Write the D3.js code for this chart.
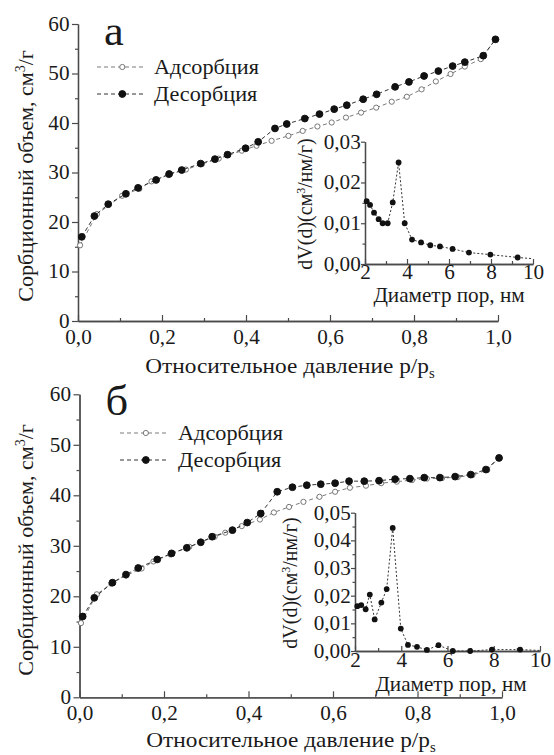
<!DOCTYPE html>
<html>
<head>
<meta charset="utf-8">
<script src="https://cdn.jsdelivr.net/npm/d3@7"></script>
<style>
  body { margin: 0; background: #fff; }
  svg { display: block; }
  text { font-family: "Liberation Serif", "Times New Roman", serif; fill: #1a1a1a; }
</style>
</head>
<body>
<svg id="fig" width="554" height="755"></svg>
<script>
// ---- Isotherm (а): relative pressure p/ps and sorbed volume, cm3/g ----
const desA_p = [0.009, 0.039, 0.072, 0.114, 0.143, 0.186, 0.217, 0.247, 0.292, 0.326, 0.356, 0.399, 0.429, 0.469, 0.497, 0.540, 0.575, 0.610, 0.640, 0.679, 0.711, 0.755, 0.788, 0.824, 0.858, 0.892, 0.921, 0.965, 0.994];
const desA_v = [17.0, 21.2, 23.6, 25.7, 26.9, 28.5, 29.7, 30.5, 31.8, 32.7, 33.6, 34.9, 36.2, 38.9, 39.8, 40.9, 41.8, 42.8, 43.6, 44.8, 45.8, 47.3, 48.3, 49.5, 50.5, 51.5, 52.3, 53.6, 56.9];
const adsA_p = [0.005, 0.045, 0.105, 0.146, 0.175, 0.215, 0.257, 0.295, 0.335, 0.390, 0.425, 0.461, 0.501, 0.535, 0.570, 0.604, 0.638, 0.674, 0.710, 0.747, 0.783, 0.818, 0.852, 0.887, 0.921, 0.959, 0.994];
const adsA_v = [15.3, 21.6, 25.3, 26.7, 28.2, 29.5, 30.6, 31.7, 32.8, 34.4, 35.4, 36.4, 37.4, 38.4, 39.3, 40.1, 41.1, 42.1, 43.1, 44.3, 45.3, 46.8, 48.4, 49.9, 51.4, 52.9, 56.9];

// ---- Isotherm (б) ----
const desB_p = [0.0075, 0.035, 0.078, 0.110, 0.139, 0.184, 0.218, 0.254, 0.287, 0.314, 0.362, 0.397, 0.429, 0.468, 0.504, 0.538, 0.571, 0.605, 0.638, 0.674, 0.709, 0.747, 0.782, 0.816, 0.853, 0.889, 0.926, 0.962, 0.993];
const desB_v = [16.0, 19.7, 22.7, 24.3, 25.6, 27.3, 28.5, 29.6, 30.7, 31.8, 33.1, 34.6, 36.4, 40.7, 41.6, 42.0, 42.2, 42.4, 42.8, 42.8, 42.9, 43.2, 43.3, 43.5, 43.5, 43.7, 44.1, 45.1, 47.4];
const adsB_p = [0.0035, 0.041, 0.075, 0.110, 0.147, 0.175, 0.215, 0.260, 0.320, 0.345, 0.384, 0.427, 0.460, 0.496, 0.530, 0.568, 0.605, 0.640, 0.678, 0.714, 0.751, 0.787, 0.822, 0.858, 0.895, 0.930, 0.965, 0.993];
const adsB_v = [14.7, 20.4, 22.5, 24.1, 25.5, 26.9, 28.3, 29.8, 31.8, 32.6, 33.9, 35.2, 36.6, 37.7, 38.7, 39.7, 40.7, 41.5, 41.9, 42.4, 42.7, 43.0, 43.3, 43.4, 43.6, 44.0, 45.0, 47.4];

// ---- Pore size distributions (insets); the last entry only continues the curve ----
const poreA_d  = [2.08, 2.24, 2.43, 2.65, 2.84, 3.08, 3.32, 3.60, 3.89, 4.24, 4.67, 5.11, 5.57, 6.17, 6.95, 7.97, 9.27, 10.0];
const poreA_dv = [0.0154, 0.0145, 0.0126, 0.0110, 0.0100, 0.0100, 0.0151, 0.0249, 0.0100, 0.0060, 0.0053, 0.0046, 0.0043, 0.0037, 0.0028, 0.0023, 0.0016, 0.0013];
const poreB_d  = [2.10, 2.27, 2.46, 2.64, 2.85, 3.14, 3.37, 3.63, 3.98, 4.29, 4.68, 5.11, 5.61, 6.23, 6.98, 7.92, 9.14, 10.0];
const poreB_dv = [0.0162, 0.0166, 0.0151, 0.0204, 0.0114, 0.0175, 0.0224, 0.0445, 0.0081, 0.0022, 0.0015, 0.0004, 0.0021, 0.0000, 0.0000, 0.0005, 0.0005, 0.0002];

// ---- Ticks and labels ----
const pTicks = [0, 0.2, 0.4, 0.6, 0.8, 1.0];
const pMinor = [0.1, 0.3, 0.5, 0.7, 0.9];
const vTicks = [0, 10, 20, 30, 40, 50, 60];
const vMinor = [5, 15, 25, 35, 45, 55];
const dTicks = [2, 4, 6, 8, 10];
const dMinor = [3, 5, 7, 9];
const dvTicksA = [0, 0.01, 0.02, 0.03];
const dvMinorA = [0.005, 0.015, 0.025];
const dvTicksB = [0, 0.01, 0.02, 0.03, 0.04, 0.05];
const dvMinorB = [0.005, 0.015, 0.025, 0.035, 0.045];
const seriesNames = ["Адсорбция", "Десорбция"];

const SX = 1.06;          // horizontal text width factor
const AX = "#4a4a4a";
const svg = d3.select("#fig");
const comma = f => v => d3.format(f)(v).replace(".", ",");

function styleAxis(g, size) {
  g.attr("font-family", null).attr("font-size", null);
  g.select(".domain").attr("stroke", AX).attr("stroke-width", 1.3);
  g.selectAll(".tick line").attr("stroke", AX).attr("stroke-width", 1.2);
  g.selectAll(".tick text").attr("font-size", size).attr("fill", "#1a1a1a")
    .attr("transform", `scale(${SX},1)`);
}

function hText(x, y, size, anchor) {
  return svg.append("g").attr("transform", `translate(${x},${y}) scale(${SX},1)`)
    .append("text").attr("text-anchor", anchor).attr("font-size", size);
}

function vText(x, y, size) {
  return svg.append("text").attr("transform", `translate(${x},${y}) rotate(-90)`)
    .attr("text-anchor", "middle").attr("font-size", size);
}

function drawSeries(g, pts, x, y, filled, lineColor, dash, r) {
  g.append("path").datum(pts)
    .attr("fill", "none").attr("stroke", lineColor).attr("stroke-width", 1)
    .attr("stroke-dasharray", dash)
    .attr("d", d3.line().x(d => x(d[0])).y(d => y(d[1])));
  g.selectAll(null).data(pts).join("circle")
    .attr("cx", d => x(d[0])).attr("cy", d => y(d[1])).attr("r", r)
    .attr("fill", filled ? "#111" : "#fff")
    .attr("stroke", filled ? "#111" : "#777").attr("stroke-width", 1);
}

function isotherm(o) {
  const x = d3.scaleLinear().domain([0, 1]).range([o.left, o.right]);
  const y = d3.scaleLinear().domain([0, 60]).range([o.bottom, o.top]);
  const g = svg.append("g");

  g.append("g").attr("transform", `translate(0,${o.bottom})`)
    .call(d3.axisBottom(x).tickValues(pMinor).tickSizeInner(-3).tickSizeOuter(0).tickFormat(""))
    .call(styleAxis, 20);
  g.append("g").attr("transform", `translate(0,${o.bottom})`)
    .call(d3.axisBottom(x).tickValues(pTicks).tickSizeInner(-6).tickSizeOuter(0).tickPadding(9).tickFormat(comma(".1f")))
    .call(styleAxis, 20);
  g.append("g").attr("transform", `translate(${o.left},0)`)
    .call(d3.axisLeft(y).tickValues(vMinor).tickSizeInner(3).tickSizeOuter(0).tickFormat(""))
    .call(styleAxis, 20);
  g.append("g").attr("transform", `translate(${o.left},0)`)
    .call(d3.axisLeft(y).tickValues(vTicks).tickSizeInner(6).tickSizeOuter(0).tickPadding(2).tickFormat(d3.format("d")))
    .call(styleAxis, 20);

  const ads = o.adsP.map((p, i) => [p, o.adsV[i]]);
  const des = o.desP.map((p, i) => [p, o.desV[i]]);
  drawSeries(g, ads, x, y, false, "#7a7a7a", "4,3", 2.6);
  drawSeries(g, des, x, y, true, "#333", "4,3", 3.4);

  // panel letter
  hText(o.left + 26, o.top + 21, 42, "start").text(o.letter);

  // legend
  o.legend.forEach((lg, i) => {
    const lx = d3.scaleLinear().domain([0, 1]).range([lg.x0, lg.x1]);
    svg.append("line").attr("x1", lx(0)).attr("x2", lx(1)).attr("y1", lg.y).attr("y2", lg.y)
      .attr("stroke", i === 0 ? "#7a7a7a" : "#333").attr("stroke-dasharray", "4,3");
    svg.append("circle").attr("cx", lx(0.55)).attr("cy", lg.y).attr("r", i === 0 ? 2.6 : 3.4)
      .attr("fill", i === 0 ? "#fff" : "#111").attr("stroke", i === 0 ? "#777" : "#111");
    hText(lg.tx, lg.y + 7, 21, "start").text(seriesNames[i]);
  });

  // axis titles
  const xt = hText(o.xTitle[0], o.xTitle[1], 22, "middle");
  xt.append("tspan").text("Относительное давление p/p");
  xt.append("tspan").attr("font-size", 14).attr("dy", 5).text("s");

  const yt = vText(o.yTitle[0], o.yTitle[1], 22);
  yt.append("tspan").text("Сорбционный объем, см");
  yt.append("tspan").attr("font-size", 14).attr("dy", -8).text("3");
  yt.append("tspan").attr("dy", 8).text("/г");
}

function inset(o) {
  const x = d3.scaleLinear().domain([2, 10]).range([o.left, o.right]);
  const y = d3.scaleLinear().domain([0, o.max]).range([o.bottom, o.top]);
  const g = svg.append("g");

  g.append("g").attr("transform", `translate(0,${o.bottom})`)
    .call(d3.axisBottom(x).tickValues(dMinor).tickSizeInner(-3).tickSizeOuter(0).tickFormat(""))
    .call(styleAxis, 20);
  g.append("g").attr("transform", `translate(0,${o.bottom})`)
    .call(d3.axisBottom(x).tickValues(dTicks).tickSizeInner(-5).tickSizeOuter(0).tickPadding(o.xPad).tickFormat(d3.format("d")))
    .call(styleAxis, 20);
  g.append("g").attr("transform", `translate(${o.left},0)`)
    .call(d3.axisLeft(y).tickValues(o.minor).tickSizeInner(2.5).tickSizeOuter(0).tickFormat(""))
    .call(styleAxis, 20);
  g.append("g").attr("transform", `translate(${o.left},0)`)
    .call(d3.axisLeft(y).tickValues(o.ticks).tickSizeInner(4).tickSizeOuter(0).tickPadding(0).tickFormat(comma(".2f")))
    .call(styleAxis, 20);

  const pts = o.d.map((d, i) => [d, o.dv[i]]);
  g.append("path").datum(pts)
    .attr("fill", "none").attr("stroke", "#333").attr("stroke-width", 1).attr("stroke-dasharray", "2,2")
    .attr("d", d3.line().x(d => x(d[0])).y(d => y(d[1])));
  g.selectAll(null).data(pts.slice(0, -1)).join("circle")
    .attr("cx", d => x(d[0])).attr("cy", d => y(d[1])).attr("r", 2.9).attr("fill", "#111");

  hText(o.xTitle[0], o.xTitle[1], 20, "middle").text("Диаметр пор, нм");

  const yt = vText(o.yTitle[0], o.yTitle[1], o.yTitleSize);
  yt.append("tspan").text("dV(d)(см");
  yt.append("tspan").attr("font-size", 12).attr("dy", -7).text("3");
  yt.append("tspan").attr("dy", 7).text("/нм/г)");
}

isotherm({
  left: 78, right: 498, top: 24, bottom: 321, letter: "а",
  desP: desA_p, desV: desA_v, adsP: adsA_p, adsV: adsA_v,
  legend: [{ x0: 97, x1: 143, y: 67, tx: 154 }, { x0: 97, x1: 143, y: 94, tx: 154 }],
  xTitle: [290, 373], yTitle: [33, 176]
});
inset({
  left: 365, right: 533, top: 141.7, bottom: 264, max: 0.03,
  ticks: dvTicksA, minor: dvMinorA, d: poreA_d, dv: poreA_dv, xPad: 1,
  xTitle: [449, 302], yTitle: [312, 204], yTitleSize: 20
});

isotherm({
  left: 79.5, right: 502, top: 394.3, bottom: 697.3, letter: "б",
  desP: desB_p, desV: desB_v, adsP: adsB_p, adsV: adsB_v,
  legend: [{ x0: 120, x1: 167, y: 433, tx: 178 }, { x0: 120, x1: 167, y: 460, tx: 178 }],
  xTitle: [291, 747], yTitle: [33, 550]
});
inset({
  left: 355, right: 540, top: 512.7, bottom: 651, max: 0.05,
  ticks: dvTicksB, minor: dvMinorB, d: poreB_d, dv: poreB_dv, xPad: 2,
  xTitle: [451, 691], yTitle: [297, 583], yTitleSize: 20
});
</script>
</body>
</html>
